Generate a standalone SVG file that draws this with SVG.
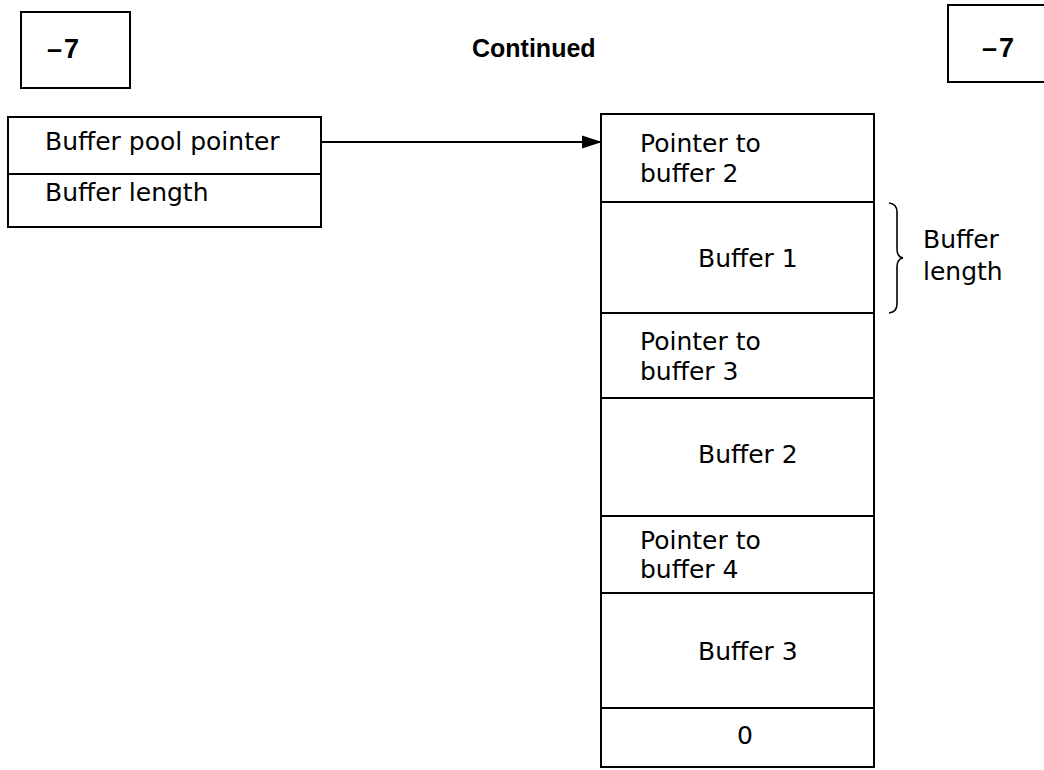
<svg xmlns="http://www.w3.org/2000/svg" width="1044" height="770" viewBox="0 0 1044 770">
<defs>
<style>
.box{fill:#fff;stroke:#000;stroke-width:2}
.ln{stroke:#000;stroke-width:2;fill:none}
.t{font-family:"DejaVu Sans","Liberation Sans",sans-serif;font-size:25px;fill:#000}
.b{font-family:"Liberation Sans","Arial",sans-serif;font-weight:bold;font-size:25px;fill:#000}
.pg{font-family:"Liberation Sans","Arial",sans-serif;font-weight:bold;font-size:27px;fill:#000;letter-spacing:2px}
</style>
<marker id="arr" markerWidth="20" markerHeight="14" refX="19" refY="7" orient="auto" markerUnits="userSpaceOnUse">
<path d="M0,0.5 L20,7 L0,13.5 Z" fill="#000"/>
</marker>
</defs>
<rect width="1044" height="770" fill="#fff"/>

<g id="page-left">
<rect class="box" x="21" y="12" width="109" height="76"/>
<text class="pg" x="47" y="58">–7</text>
</g>

<g id="title">
<text class="b" x="472" y="57">Continued</text>
</g>

<g id="page-right">
<rect class="box" x="948" y="5" width="110" height="77"/>
<text class="pg" x="982" y="57">–7</text>
</g>

<g id="control-block">
<rect class="box" x="8" y="117" width="313" height="110"/>
<line class="ln" x1="8" y1="174" x2="321" y2="174"/>
<text class="t" x="45" y="150">Buffer pool pointer</text>
<text class="t" x="45" y="201">Buffer length</text>
</g>

<g id="buffer-pool">
<rect class="box" x="601" y="114" width="273" height="653"/>
<line class="ln" x1="601" y1="202" x2="874" y2="202"/>
<line class="ln" x1="601" y1="313" x2="874" y2="313"/>
<line class="ln" x1="601" y1="398" x2="874" y2="398"/>
<line class="ln" x1="601" y1="516" x2="874" y2="516"/>
<line class="ln" x1="601" y1="593" x2="874" y2="593"/>
<line class="ln" x1="601" y1="708" x2="874" y2="708"/>
<text class="t" x="640" y="152">Pointer to</text>
<text class="t" x="640" y="182">buffer 2</text>
<text class="t" x="698" y="267">Buffer 1</text>
<text class="t" x="640" y="350">Pointer to</text>
<text class="t" x="640" y="380">buffer 3</text>
<text class="t" x="698" y="463">Buffer 2</text>
<text class="t" x="640" y="549">Pointer to</text>
<text class="t" x="640" y="578">buffer 4</text>
<text class="t" x="698" y="660">Buffer 3</text>
<text class="t" x="737" y="744">0</text>
</g>

<g id="brace-label">
<path class="ln" style="stroke-width:1.6" d="M889,203 Q897,204 897,212 L897,249 Q897,257 903,258 Q897,259 897,267 L897,304 Q897,312 889,313"/>
<text class="t" x="923" y="248">Buffer</text>
<text class="t" x="923" y="280">length</text>
</g>

<g id="connectors">
<line class="ln" x1="321" y1="142" x2="601" y2="142" marker-end="url(#arr)"/>
</g>
</svg>
